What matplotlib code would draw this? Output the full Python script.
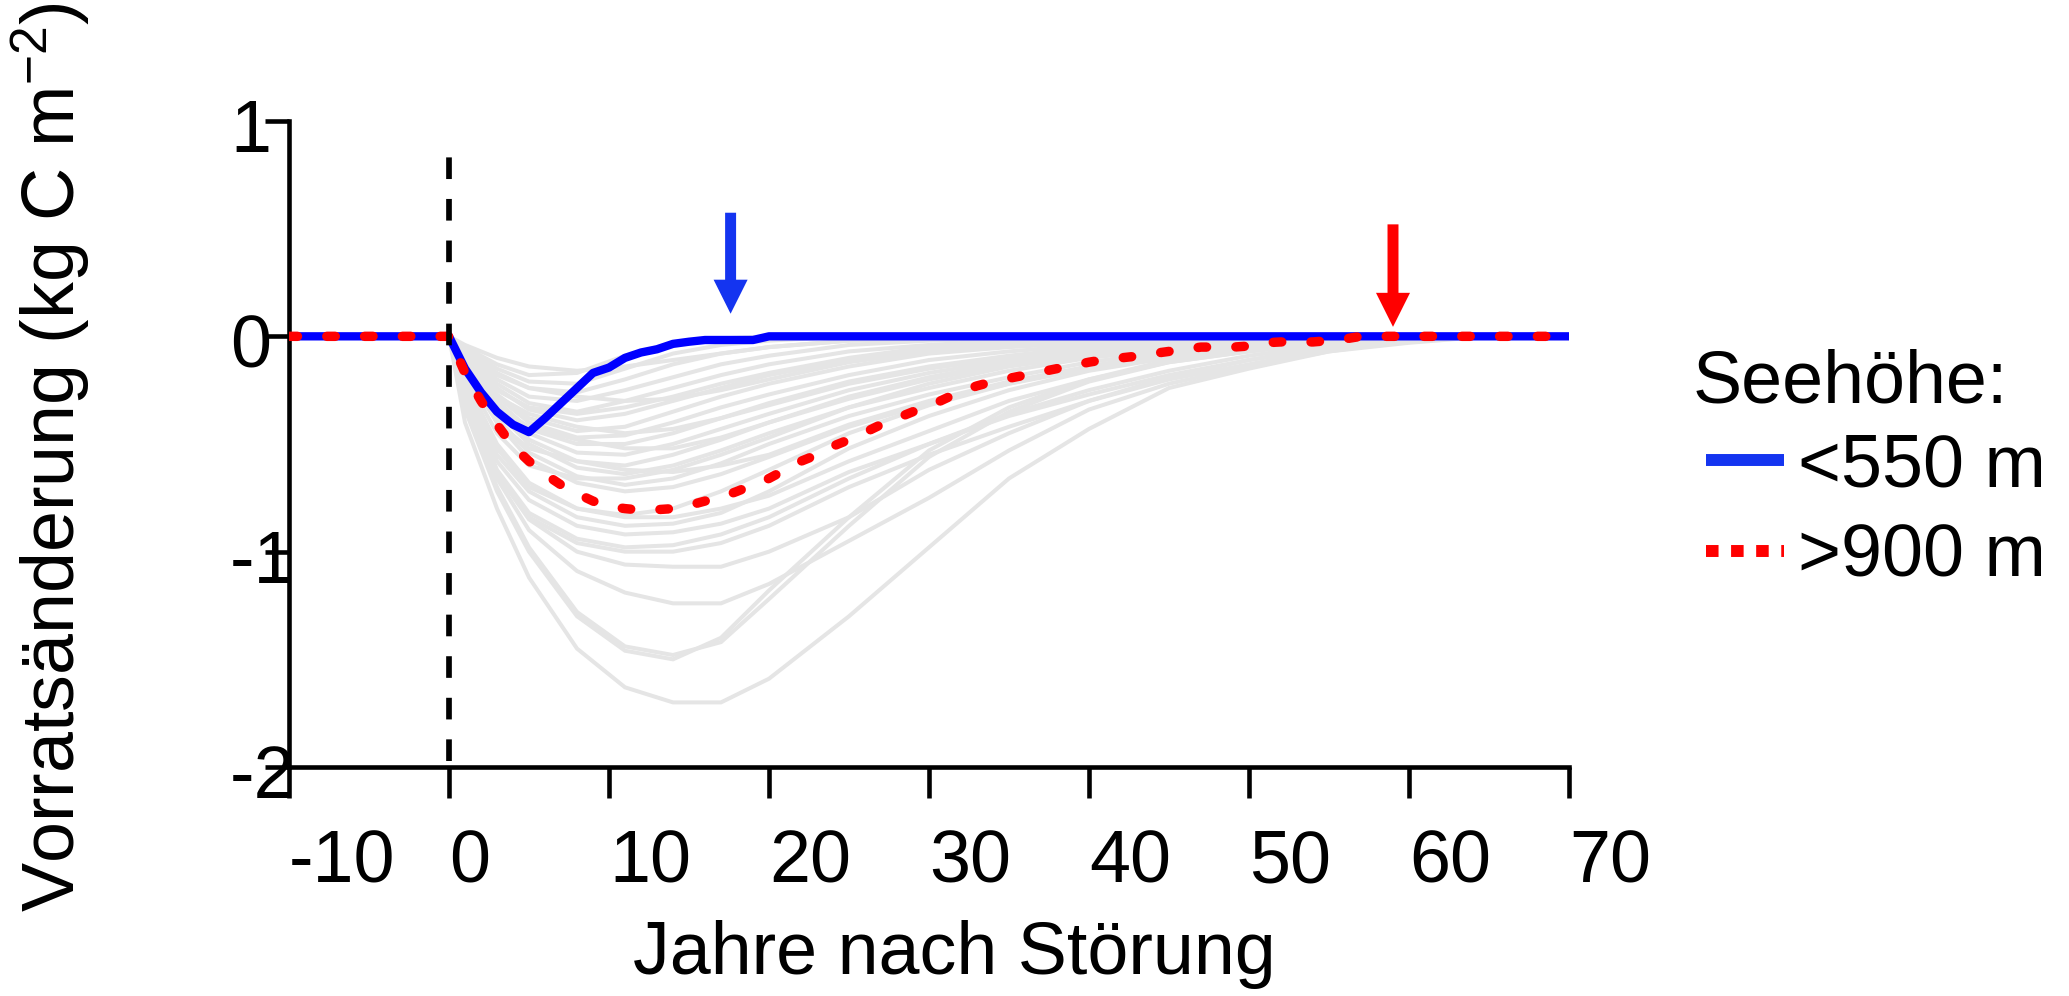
import matplotlib
matplotlib.use("Agg")
import matplotlib.pyplot as plt
from matplotlib.lines import Line2D
from matplotlib.transforms import ScaledTranslation

plt.rcParams['font.family'] = ['Liberation Sans', 'DejaVu Sans']
plt.rcParams['mathtext.fontset'] = 'custom'
plt.rcParams['mathtext.rm'] = 'Liberation Sans'
plt.rcParams['mathtext.default'] = 'regular'
plt.rcParams['axes.unicode_minus'] = False

# ---- data ----
# single sites (grey), years after disturbance at which they were read
site_years = [0, 1, 3, 5, 8, 11, 14, 17, 20, 25, 30, 35, 40, 45, 50, 55, 60, 65, 70]
site_curves = [
    [0, -0.05, -0.13, -0.18, -0.17, -0.09, -0.03, -0.01, 0, 0, 0, 0, 0, 0, 0, 0, 0, 0, 0],
    [0, -0.04, -0.10, -0.14, -0.16, -0.14, -0.11, -0.08, -0.05, -0.02, -0.01, 0, 0, 0, 0, 0, 0, 0, 0],
    [0, -0.06, -0.15, -0.21, -0.22, -0.15, -0.08, -0.04, -0.02, 0, 0, 0, 0, 0, 0, 0, 0, 0, 0],
    [0, -0.07, -0.17, -0.24, -0.26, -0.20, -0.13, -0.08, -0.05, -0.02, -0.01, 0, 0, 0, 0, 0, 0, 0, 0],
    [0, -0.08, -0.18, -0.24, -0.28, -0.30, -0.29, -0.25, -0.20, -0.12, -0.07, -0.04, -0.02, -0.01, 0, 0, 0, 0, 0],
    [0, -0.08, -0.20, -0.28, -0.30, -0.25, -0.19, -0.13, -0.09, -0.04, -0.02, -0.01, 0, 0, 0, 0, 0, 0, 0],
    [0, -0.09, -0.22, -0.31, -0.35, -0.30, -0.24, -0.18, -0.13, -0.07, -0.04, -0.02, -0.01, 0, 0, 0, 0, 0, 0],
    [0, -0.10, -0.25, -0.33, -0.36, -0.33, -0.28, -0.22, -0.17, -0.10, -0.05, -0.02, -0.01, 0, 0, 0, 0, 0, 0],
    [0, -0.10, -0.24, -0.34, -0.39, -0.36, -0.30, -0.24, -0.18, -0.11, -0.06, -0.03, -0.02, -0.01, 0, 0, 0, 0, 0],
    [0, -0.12, -0.28, -0.36, -0.42, -0.45, -0.43, -0.38, -0.32, -0.22, -0.15, -0.10, -0.06, -0.03, -0.01, 0, 0, 0, 0],
    [0, -0.11, -0.27, -0.38, -0.44, -0.42, -0.35, -0.28, -0.22, -0.14, -0.08, -0.05, -0.03, -0.01, 0, 0, 0, 0, 0],
    [0, -0.11, -0.28, -0.40, -0.47, -0.46, -0.40, -0.33, -0.27, -0.18, -0.11, -0.07, -0.04, -0.02, -0.01, 0, 0, 0, 0],
    [0, -0.12, -0.30, -0.43, -0.50, -0.50, -0.45, -0.38, -0.31, -0.21, -0.14, -0.09, -0.05, -0.03, -0.01, 0, 0, 0, 0],
    [0, -0.14, -0.33, -0.42, -0.48, -0.52, -0.52, -0.47, -0.40, -0.28, -0.19, -0.12, -0.07, -0.04, -0.02, -0.01, 0, 0, 0],
    [0, -0.12, -0.31, -0.45, -0.54, -0.55, -0.50, -0.43, -0.36, -0.25, -0.17, -0.11, -0.07, -0.04, -0.02, -0.01, 0, 0, 0],
    [0, -0.13, -0.33, -0.48, -0.58, -0.60, -0.55, -0.48, -0.40, -0.29, -0.20, -0.13, -0.08, -0.05, -0.03, -0.01, 0, 0, 0],
    [0, -0.16, -0.40, -0.52, -0.58, -0.62, -0.63, -0.60, -0.55, -0.41, -0.30, -0.21, -0.14, -0.08, -0.04, -0.02, -0.01, 0, 0],
    [0, -0.14, -0.35, -0.50, -0.61, -0.64, -0.60, -0.53, -0.45, -0.33, -0.24, -0.16, -0.10, -0.06, -0.03, -0.01, 0, 0, 0],
    [0, -0.18, -0.45, -0.60, -0.66, -0.66, -0.62, -0.55, -0.47, -0.33, -0.22, -0.14, -0.09, -0.05, -0.02, -0.01, 0, 0, 0],
    [0, -0.15, -0.38, -0.54, -0.65, -0.69, -0.66, -0.59, -0.50, -0.37, -0.27, -0.19, -0.12, -0.07, -0.04, -0.02, -0.01, 0, 0],
    [0, -0.15, -0.40, -0.57, -0.68, -0.72, -0.70, -0.64, -0.56, -0.42, -0.31, -0.22, -0.15, -0.09, -0.05, -0.02, -0.01, 0, 0],
    [0, -0.20, -0.50, -0.68, -0.80, -0.83, -0.80, -0.72, -0.62, -0.45, -0.32, -0.22, -0.14, -0.08, -0.04, -0.02, -0.01, 0, 0],
    [0, -0.20, -0.52, -0.70, -0.80, -0.84, -0.84, -0.80, -0.74, -0.58, -0.44, -0.30, -0.20, -0.12, -0.07, -0.03, -0.01, 0, 0],
    [0, -0.22, -0.55, -0.72, -0.84, -0.88, -0.87, -0.82, -0.72, -0.52, -0.37, -0.25, -0.16, -0.10, -0.05, -0.02, -0.01, 0, 0],
    [0, -0.24, -0.58, -0.76, -0.88, -0.92, -0.91, -0.87, -0.80, -0.63, -0.50, -0.36, -0.25, -0.16, -0.09, -0.04, -0.02, 0, 0],
    [0, -0.26, -0.62, -0.82, -0.94, -0.98, -0.97, -0.92, -0.84, -0.66, -0.50, -0.37, -0.27, -0.18, -0.11, -0.05, -0.02, 0, 0],
    [0, -0.27, -0.63, -0.84, -0.96, -1.00, -1.00, -0.96, -0.88, -0.70, -0.55, -0.42, -0.30, -0.20, -0.13, -0.06, -0.02, 0, 0],
    [0, -0.28, -0.64, -0.85, -1.00, -1.06, -1.07, -1.07, -1.00, -0.84, -0.62, -0.45, -0.30, -0.19, -0.11, -0.05, -0.02, 0, 0],
    [0, -0.30, -0.66, -0.90, -1.09, -1.19, -1.24, -1.24, -1.15, -0.95, -0.75, -0.53, -0.34, -0.22, -0.14, -0.07, -0.03, 0, 0],
    [0, -0.34, -0.72, -1.00, -1.30, -1.46, -1.50, -1.40, -1.18, -0.84, -0.53, -0.33, -0.20, -0.11, -0.065, -0.03, -0.01, 0, 0],
    [0, -0.33, -0.70, -0.98, -1.28, -1.44, -1.48, -1.42, -1.22, -0.88, -0.56, -0.35, -0.21, -0.12, -0.07, -0.03, -0.01, 0, 0],
    [0, -0.40, -0.80, -1.12, -1.45, -1.63, -1.70, -1.70, -1.59, -1.30, -0.98, -0.66, -0.43, -0.24, -0.15, -0.07, -0.02, 0, 0],
]
pre_years = [-10, 0]
pre_values = [0, 0]

# mean course <550 m
low_years = [-10, 0, 1, 2, 3, 4, 5, 6, 7, 8, 9, 10, 11, 12, 13, 14, 15, 16, 19, 20, 70]
low_values = [0, 0, -0.15, -0.26, -0.35, -0.41, -0.445, -0.38, -0.31, -0.24, -0.17, -0.145,
              -0.10, -0.075, -0.06, -0.035, -0.025, -0.017, -0.017, 0, 0]

# mean course >900 m
high_years = [-10, 0, 1, 2, 3, 4, 5, 6, 7, 8, 9, 10, 11, 12, 13, 14, 15, 16, 17, 18, 19,
              20, 21, 22, 23, 24, 25, 26, 27, 28, 29, 30, 31, 32, 33, 34, 35, 36, 37, 38, 39,
              40, 41, 42, 43, 44, 45, 46, 47, 48, 49, 50, 51, 52, 53, 54, 55, 56, 57, 70]
high_values = [0, 0, -0.17, -0.30, -0.41, -0.51, -0.58, -0.64, -0.69, -0.73, -0.765, -0.79,
               -0.80, -0.807, -0.805, -0.80, -0.785, -0.765, -0.748, -0.72, -0.69,
               -0.66, -0.62, -0.58, -0.55, -0.51, -0.48, -0.446, -0.41, -0.38, -0.35,
               -0.325, -0.29, -0.255, -0.23, -0.21, -0.195, -0.18, -0.165, -0.15, -0.135,
               -0.12, -0.108, -0.10, -0.092, -0.08, -0.07, -0.06, -0.05, -0.05, -0.05,
               -0.045, -0.03, -0.026, -0.026, -0.026, -0.02, -0.012, 0, 0]

# recovery arrows: year, arrow tail, arrow tip
recovery_years = [17.6, 59.0]
arrow_tail = [0.574, 0.52]
arrow_tip = [0.105, 0.044]
arrow_colors = ['#1434F0', '#FF0000']

legend_title = 'Seehöhe:'
legend_labels = ['<550 m', '>900 m']
xticks = [-10, 0, 10, 20, 30, 40, 50, 60, 70]
xtick_labels = ['-10', '0', '10', '20', '30', '40', '50', '60', '70']
yticks = [1, 0, -1, -2]
ytick_labels = ['1', '0', '-1', '-2']

FS = 53

fig = plt.figure(figsize=(20.69, 9.96), dpi=100)
ax = fig.add_axes([289 / 2069, 1 - 767 / 996, 1280 / 2069, 646 / 996])

for vals in site_curves:
    ax.plot(pre_years + site_years, pre_values + vals, color='#E5E5E5', lw=2.9,
            solid_joinstyle='miter', zorder=1)

ax.plot(low_years, low_values, color='#0000FF', lw=6, zorder=3)
ax.plot(high_years, high_values, color='#FF0000', lw=6.8, linestyle=(0, (0.9, 3.1)),
        dash_capstyle='round', zorder=4)

# disturbance year
ax.axvline(0, ymin=0.01, ymax=0.947, color='black', lw=4.1,
           linestyle=(0, (3.8, 3.5)), dash_capstyle='butt', zorder=5)

for yr, y0, y1, c in zip(recovery_years, arrow_tail, arrow_tip, arrow_colors):
    ax.annotate('', xy=(yr, y1), xytext=(yr, y0),
                arrowprops=dict(arrowstyle='simple,head_length=2.45,head_width=2.45,tail_width=0.79',
                                color=c, lw=0, shrinkA=0, shrinkB=0, mutation_scale=10),
                zorder=6)

ax.set_xlim(-10, 70)
ax.set_ylim(-2, 1)
ax.spines['top'].set_visible(False)
ax.spines['right'].set_visible(False)
for s in ['left', 'bottom']:
    ax.spines[s].set_linewidth(3.3)

ax.set_xticks(xticks)
ax.set_xticklabels(xtick_labels)
ax.set_yticks(yticks)
ax.set_yticklabels(ytick_labels)
ax.tick_params(axis='x', length=22, width=3.3, pad=22, labelsize=FS)
ax.tick_params(axis='y', length=17, width=3.3, pad=25.4, labelsize=FS)
for lbl in ax.get_xticklabels():
    lbl.set_horizontalalignment('left')
shift = ScaledTranslation(0, -0.04, fig.dpi_scale_trans)
for tick in ax.yaxis.get_major_ticks():
    tick.label1.set_horizontalalignment('left')
    tick.label1.set_transform(tick.label1.get_transform() + shift)

ax.set_xlabel('Jahre nach Störung', fontsize=FS)
ax.xaxis.set_label_coords(0.52, -0.237)
ax.set_ylabel('Vorratsänderung (kg C m$^{-2}$)', fontsize=FS)
ax.yaxis.set_label_coords(-0.154, 0.48)

# legend
fig.text(1693 / 2069, 1 - 402 / 996, legend_title, fontsize=FS, ha='left', va='baseline')
handles = [Line2D([], [], color='#1434F0', lw=8.6, solid_capstyle='butt'),
           Line2D([], [], color='#FF0000', lw=8.6, linestyle=(0, (1.05, 1.05)),
                  dash_capstyle='butt')]
leg = ax.legend(handles, legend_labels, fontsize=FS, frameon=False, loc='upper left',
                bbox_to_anchor=(1706 / 2069, 1 - 432 / 996), bbox_transform=fig.transFigure,
                borderpad=0, borderaxespad=0, handlelength=1.06, handletextpad=0.19,
                labelspacing=0.29)

fig.savefig('out.png', dpi=100)
